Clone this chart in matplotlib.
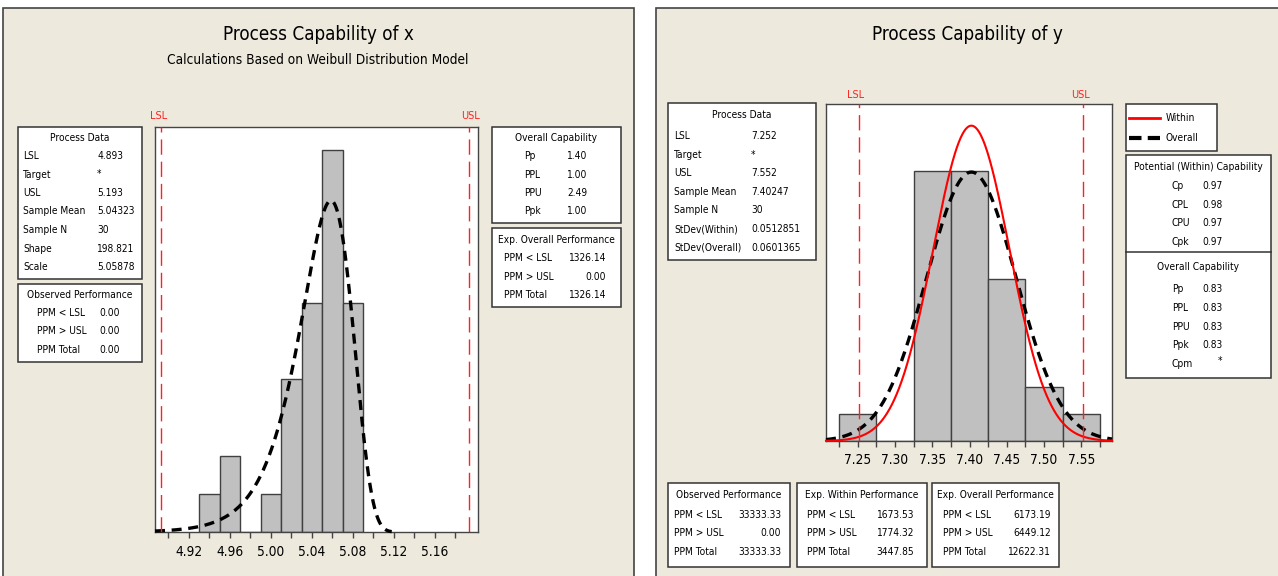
import numpy as np
import matplotlib
matplotlib.use("Agg")
import matplotlib.pyplot as plt
from matplotlib.patches import Rectangle
from matplotlib.lines import Line2D

plt.rcParams['font.family'] = ['DejaVu Sans']
plt.rcParams['font.stretch'] = 'condensed'

# ---------------- data ----------------
x_bin_centers = [4.94, 4.96, 4.98, 5.00, 5.02, 5.04, 5.06, 5.08]
x_counts = [1, 2, 0, 1, 4, 6, 10, 6]
x_bin_width = 0.02
x_lsl, x_usl = 4.893, 5.193
x_n = 30
x_shape, x_scale = 198.821, 5.05878
x_ticks = [4.92, 4.96, 5.00, 5.04, 5.08, 5.12, 5.16]

y_bin_centers = [7.25, 7.30, 7.35, 7.40, 7.45, 7.50, 7.55]
y_counts = [1, 0, 10, 10, 6, 2, 1]
y_bin_width = 0.05
y_lsl, y_usl = 7.252, 7.552
y_n = 30
y_mean = 7.40247
y_sd_within = 0.0512851
y_sd_overall = 0.0601365
y_ticks = [7.25, 7.30, 7.35, 7.40, 7.45, 7.50, 7.55]

x_process_labels = ["LSL", "Target", "USL", "Sample Mean", "Sample N", "Shape", "Scale"]
x_process_values = ["4.893", "*", "5.193", "5.04323", "30", "198.821", "5.05878"]
x_obs_labels = ["PPM < LSL", "PPM > USL", "PPM Total"]
x_obs_values = ["0.00", "0.00", "0.00"]
x_cap_labels = ["Pp", "PPL", "PPU", "Ppk"]
x_cap_values = ["1.40", "1.00", "2.49", "1.00"]
x_exp_labels = ["PPM < LSL", "PPM > USL", "PPM Total"]
x_exp_values = ["1326.14", "0.00", "1326.14"]

y_process_labels = ["LSL", "Target", "USL", "Sample Mean", "Sample N", "StDev(Within)", "StDev(Overall)"]
y_process_values = ["7.252", "*", "7.552", "7.40247", "30", "0.0512851", "0.0601365"]
y_pot_labels = ["Cp", "CPL", "CPU", "Cpk"]
y_pot_values = ["0.97", "0.98", "0.97", "0.97"]
y_ovc_labels = ["Pp", "PPL", "PPU", "Ppk", "Cpm"]
y_ovc_values = ["0.83", "0.83", "0.83", "0.83", "*"]
ppm_labels = ["PPM < LSL", "PPM > USL", "PPM Total"]
y_obs_values = ["33333.33", "0.00", "33333.33"]
y_within_values = ["1673.53", "1774.32", "3447.85"]
y_overall_values = ["6173.19", "6449.12", "12622.31"]

# ---------------- figure helpers ----------------
W, H = 1278, 576
fig = plt.figure(figsize=(W / 100, H / 100), dpi=100, facecolor='white')
renderer = fig.canvas.get_renderer()

BG = '#EDE9DD'
EDGE = '#333333'


def fit_size(s, target_px, base=10.0):
    t = fig.text(0, 0, s, fontsize=base)
    w = t.get_window_extent(renderer).width
    t.remove()
    return base * target_px / w


FS = fit_size("Sample Mean", 62)
FS_TICK = fit_size("4.92", 27)
FS_TITLE = fit_size("Process Capability of x", 191)
FS_SUB = fit_size("Calculations Based on Weibull Distribution Model", 301)
FS_LSL = fit_size("LSL", 17)


def fx(x):
    return x / W


def fy(y):
    return 1 - y / H


def rect(x0, y0, x1, y1, fc='white', ec=EDGE, lw=1.1, z=1):
    fig.patches.append(Rectangle((fx(x0), fy(y1)), (x1 - x0) / W, (y1 - y0) / H,
                                 transform=fig.transFigure, fc=fc, ec=ec, lw=lw, zorder=z))


def txt(x, y, s, ha='left', size=None, color='black', **kw):
    fig.text(fx(x), fy(y), s, ha=ha, va='center', fontsize=size or FS, color=color,
             zorder=5, **kw)


def axes_px(x0, y0, x1, y1):
    ax = fig.add_axes([fx(x0), fy(y1), (x1 - x0) / W, (y1 - y0) / H])
    ax.set_zorder(2)
    return ax


# panels
rect(3, 8, 634, 590, fc=BG, ec='#444444', lw=1.2, z=-1)
rect(656, 8, 1290, 590, fc=BG, ec='#444444', lw=1.2, z=-1)

# titles
txt(318, 35, "Process Capability of x", ha='center', size=FS_TITLE)
txt(318, 60, "Calculations Based on Weibull Distribution Model", ha='center', size=FS_SUB)
txt(967, 35, "Process Capability of y", ha='center', size=FS_TITLE)


def style_axes(ax):
    ax.set_facecolor('white')
    for s in ax.spines.values():
        s.set_color('#444444')
        s.set_linewidth(1.0)
    ax.set_yticks([])
    ax.tick_params(axis='x', which='both', direction='out', length=4, width=1,
                   color='#444444', labelsize=FS_TICK, pad=5)


# ---------------- left chart ----------------
ax1 = axes_px(155, 127, 478, 532)
style_axes(ax1)
ax1.bar(x_bin_centers, x_counts, width=x_bin_width, color='#C0C0C0', edgecolor='#404040',
        linewidth=1.0, zorder=2)
ax1.set_xlim(4.887, 5.2022)
ax1.set_ylim(0, 10.6)
xs = np.linspace(4.887, 5.118, 600)
pdf = (x_shape / x_scale) * (xs / x_scale) ** (x_shape - 1) * np.exp(-(xs / x_scale) ** x_shape)
ax1.plot(xs, pdf * x_n * x_bin_width, color='black', lw=2.4, ls=(0, (3, 2)), zorder=3,
         clip_on=False, dash_capstyle='butt')
for v in (x_lsl, x_usl):
    ax1.axvline(v, color='#FF2020', lw=1.0, ls=(0, (11, 5)), zorder=4)
ax1.set_xticks(x_ticks)
ax1.set_xticklabels([f"{t:.2f}" for t in x_ticks])
ax1.set_xticks(np.arange(4.90, 5.19, 0.02), minor=True)
txt(159, 116, "LSL", ha='center', size=FS_LSL, color='#FF2020')
txt(470, 116, "USL", ha='center', size=FS_LSL, color='#FF2020')

# left tables
rect(18, 127, 142, 279)
txt(80, 138, "Process Data", ha='center')
for i, (l, v) in enumerate(zip(x_process_labels, x_process_values)):
    y = 156 + i * 18.5
    txt(23, y, l)
    txt(97, y, v)

rect(18, 284, 142, 362)
txt(80, 295, "Observed Performance", ha='center')
for i, (l, v) in enumerate(zip(x_obs_labels, x_obs_values)):
    y = 313 + i * 18.5
    txt(37, y, l)
    txt(99, y, v)

rect(492, 127, 621, 223)
txt(556, 138, "Overall Capability", ha='center')
for i, (l, v) in enumerate(zip(x_cap_labels, x_cap_values)):
    y = 156 + i * 18.5
    txt(524, y, l)
    txt(567, y, v)

rect(492, 228, 621, 307)
txt(556, 240, "Exp. Overall Performance", ha='center')
for i, (l, v) in enumerate(zip(x_exp_labels, x_exp_values)):
    y = 258 + i * 18.5
    txt(504, y, l)
    txt(606, y, v, ha='right')

# ---------------- right chart ----------------
ax2 = axes_px(826, 104, 1112, 441)
style_axes(ax2)
ax2.bar(y_bin_centers, y_counts, width=y_bin_width, color='#C0C0C0', edgecolor='#404040',
        linewidth=1.0, zorder=2)
ax2.set_xlim(7.2076, 7.591)
ax2.set_ylim(0, 12.47)
ys = np.linspace(7.2076, 7.591, 600)


def npdf(v, m, s):
    return np.exp(-0.5 * ((v - m) / s) ** 2) / (s * np.sqrt(2 * np.pi))


ax2.plot(ys, npdf(ys, y_mean, y_sd_overall) * y_n * y_bin_width, color='black', lw=2.4,
         ls=(0, (3, 2)), zorder=3, clip_on=False, dash_capstyle='butt')
ax2.plot(ys, npdf(ys, y_mean, y_sd_within) * y_n * y_bin_width, color='#FF0000', lw=1.5,
         zorder=4, clip_on=False)
for v in (y_lsl, y_usl):
    ax2.axvline(v, color='#FF2020', lw=1.0, ls=(0, (11, 5)), zorder=4)
ax2.set_xticks(y_ticks)
ax2.set_xticklabels([f"{t:.2f}" for t in y_ticks])
ax2.set_xticks(np.arange(7.225, 7.59, 0.025), minor=True)
txt(856, 95, "LSL", ha='center', size=FS_LSL, color='#FF2020')
txt(1080, 95, "USL", ha='center', size=FS_LSL, color='#FF2020')

# right tables
rect(668, 103, 816, 260)
txt(742, 115, "Process Data", ha='center')
for i, (l, v) in enumerate(zip(y_process_labels, y_process_values)):
    y = 136 + i * 18.6
    txt(674, y, l)
    txt(751, y, v)

# legend box
rect(1126, 104, 1217, 151)
fig.lines.append(Line2D([fx(1129), fx(1160)], [fy(118), fy(118)], transform=fig.transFigure,
                        color='#FF0000', lw=2.0, zorder=6))
fig.lines.append(Line2D([fx(1129), fx(1160)], [fy(138), fy(138)], transform=fig.transFigure,
                        color='black', lw=3.0, ls=(0, (3, 1.5)), zorder=6))
txt(1166, 118, "Within")
txt(1166, 138, "Overall")

# capability box
rect(1126, 155, 1271, 378)
fig.lines.append(Line2D([fx(1126), fx(1271)], [fy(252), fy(252)], transform=fig.transFigure,
                        color=EDGE, lw=1.1, zorder=6))
txt(1198, 167, "Potential (Within) Capability", ha='center')
for i, (l, v) in enumerate(zip(y_pot_labels, y_pot_values)):
    y = 186 + i * 18.7
    txt(1172, y, l)
    txt(1202, y, v)
txt(1198, 267, "Overall Capability", ha='center')
for i, (l, v) in enumerate(zip(y_ovc_labels, y_ovc_values)):
    y = 289 + i * 18.8
    txt(1172, y, l)
    if v == "*":
        txt(1218, y - 3, v)
    else:
        txt(1202, y, v)

# bottom boxes
bottom_boxes = [
    (668, 790, "Observed Performance", y_obs_values, 674, 781),
    (797, 927, "Exp. Within Performance", y_within_values, 807, 914),
    (932, 1059, "Exp. Overall Performance", y_overall_values, 943, 1051),
]
for x0, x1, title, vals, lx, vx in bottom_boxes:
    rect(x0, 483, x1, 567)
    txt((x0 + x1) / 2, 495, title, ha='center')
    for i, (l, v) in enumerate(zip(ppm_labels, vals)):
        y = 515 + i * 18.5
        txt(lx, y, l)
        txt(vx, y, v, ha='right')

fig.savefig("out.png", dpi=100, facecolor='white')
